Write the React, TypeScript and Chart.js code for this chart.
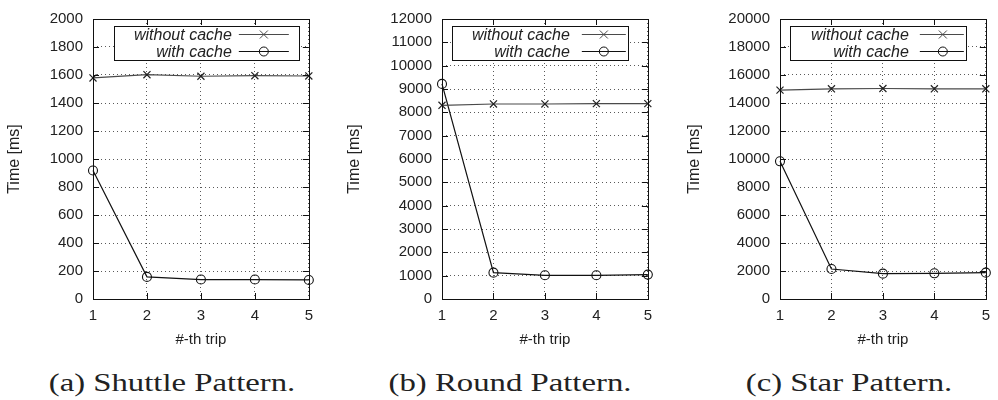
import React, { useEffect, useRef } from "react";
import { Chart, registerables } from "chart.js";
Chart.register(...registerables);

const trips = ["1", "2", "3", "4", "5"];
const seriesLabels = ["without cache", "with cache"];
const shuttleWithout = [1579, 1602, 1591, 1595, 1593];
const shuttleWith = [918, 158, 139, 139, 136];
const roundWithout = [8301, 8358, 8358, 8372, 8372];
const roundWith = [9219, 1129, 1016, 1016, 1045];
const starWithout = [14918, 15012, 15035, 15012, 15012];
const starWith = [9835, 2141, 1812, 1835, 1882];
const captions = ["(a) Shuttle Pattern.", "(b) Round Pattern.", "(c) Star Pattern."];
const yMaxes = [2000, 12000, 20000];
const ySteps = [200, 1000, 2000];
const xTitle = "#-th trip";
const yTitle = "Time [ms]";

const seriesWithout = [shuttleWithout, roundWithout, starWithout];
const seriesWith = [shuttleWith, roundWith, starWith];

// layout (pixels)
const panels = [
  { canvasLeft: 0, plotLeft: 93, plotRight: 312, captionX: 172, lg: { boxL: -195, boxR: -10, textR: -77, sL: -70, sR: -20, m: -45 } },
  { canvasLeft: 340, plotLeft: 442, plotRight: 651, captionX: 510, lg: { boxL: -196, boxR: -20, textR: -78, sL: -66, sR: -22, m: -44 } },
  { canvasLeft: 680, plotLeft: 780, plotRight: 989, captionX: 849, lg: { boxL: -196, boxR: -20, textR: -77, sL: -66, sR: -22, m: -43 } },
];
const CANVAS_H = 360;
const PLOT_TOP = 16;
const PLOT_BOTTOM = 299;
const RIGHT_PAD = 9;
const TXT = "#222";
const SANS = "'Liberation Sans', Arial, sans-serif";

function drawMarker(ctx: CanvasRenderingContext2D, kind: string, x: number, y: number) {
  ctx.beginPath();
  if (kind === "cross") {
    const r = 4;
    ctx.moveTo(x - r, y - r); ctx.lineTo(x + r, y + r);
    ctx.moveTo(x - r, y + r); ctx.lineTo(x + r, y - r);
  } else {
    ctx.arc(x, y, 4.5, 0, Math.PI * 2);
  }
  ctx.stroke();
}

function makeFramePlugin(lg: any) {
  return {
    id: "frameLegend",
    afterDraw(chart: any) {
      const { ctx, chartArea: a, scales } = chart;
      ctx.save();
      ctx.strokeStyle = "#111";
      ctx.lineWidth = 1;
      // inward ticks
      const tl = 6;
      ctx.beginPath();
      scales.y.ticks.forEach((t: any) => {
        const y = Math.round(scales.y.getPixelForValue(t.value)) + 0.5;
        ctx.moveTo(a.left, y); ctx.lineTo(a.left + tl, y);
        ctx.moveTo(a.right, y); ctx.lineTo(a.right - tl, y);
      });
      scales.x.ticks.forEach((t: any, i: number) => {
        const x = Math.round(scales.x.getPixelForTick(i)) + 0.5;
        ctx.moveTo(x, a.bottom); ctx.lineTo(x, a.bottom - tl);
        ctx.moveTo(x, a.top); ctx.lineTo(x, a.top + tl);
      });
      ctx.stroke();
      // frame
      ctx.strokeRect(Math.round(a.left) + 0.5, Math.round(a.top) + 0.5, Math.round(a.right - a.left), Math.round(a.bottom - a.top));
      // legend
      const R = a.right;
      const bx = Math.round(R + lg.boxL) + 0.5;
      const bw = Math.round(lg.boxR - lg.boxL);
      const by = a.top + 7.5;
      const bh = 34;
      ctx.fillStyle = "#fff";
      ctx.fillRect(bx, by, bw, bh);
      ctx.strokeRect(bx, by, bw, bh);
      ctx.font = "italic 16px " + SANS;
      ctx.textAlign = "right";
      ctx.textBaseline = "middle";
      const rows = [a.top + 15.5, a.top + 32.5];
      chart.data.datasets.forEach((ds: any, i: number) => {
        const y = rows[i];
        ctx.fillStyle = TXT;
        ctx.fillText(ds.label, R + lg.textR, y + 1);
        ctx.strokeStyle = ds.borderColor;
        ctx.lineWidth = 1.2;
        ctx.beginPath();
        ctx.moveTo(R + lg.sL, y); ctx.lineTo(R + lg.sR, y);
        ctx.stroke();
        ctx.lineWidth = 1;
        drawMarker(ctx, i === 0 ? "cross" : "circle", R + lg.m, y);
      });
      ctx.restore();
    },
  };
}

function Panel({ idx }: { idx: number }) {
  const ref = useRef<HTMLCanvasElement>(null);
  const p = panels[idx];
  const width = p.plotRight + RIGHT_PAD - p.canvasLeft;
  useEffect(() => {
    if (!ref.current) return;
    const chart = new Chart(ref.current, {
      type: "line",
      data: {
        labels: trips,
        datasets: [
          {
            label: seriesLabels[0],
            data: seriesWithout[idx],
            borderColor: "#4a4a4a",
            borderWidth: 1.2,
            pointStyle: "crossRot",
            pointRadius: 5,
            pointBorderWidth: 1.2,
            pointBorderColor: "#222",
            pointBackgroundColor: "rgba(0,0,0,0)",
            clip: false as any,
          },
          {
            label: seriesLabels[1],
            data: seriesWith[idx],
            borderColor: "#111",
            borderWidth: 1.2,
            pointStyle: "circle",
            pointRadius: 4.5,
            pointBorderWidth: 1.1,
            pointBorderColor: "#111",
            pointBackgroundColor: "rgba(0,0,0,0)",
            clip: false as any,
          },
        ],
      },
      options: {
        animation: false,
        responsive: false,
        devicePixelRatio: 1,
        layout: { padding: { left: 0, right: RIGHT_PAD, top: PLOT_TOP, bottom: 0 } },
        plugins: { legend: { display: false }, tooltip: { enabled: false }, title: { display: false } },
        elements: { line: { tension: 0 } },
        scales: {
          x: {
            type: "category",
            offset: false,
            afterFit: (s: any) => { s.height = CANVAS_H - PLOT_BOTTOM; },
            grid: { color: "#5a5a5a", drawTicks: false, lineWidth: 1 },
            border: { display: false, dash: [1, 3] },
            ticks: { color: TXT, font: { family: SANS, size: 15 }, padding: 8, maxRotation: 0 },
            title: { display: true, text: xTitle, color: TXT, font: { family: SANS, size: 15 }, padding: { top: 0, bottom: 11 } },
          },
          y: {
            type: "linear",
            min: 0,
            max: yMaxes[idx],
            afterFit: (s: any) => { s.width = p.plotLeft - p.canvasLeft; },
            grid: { color: "#5a5a5a", drawTicks: false, lineWidth: 1 },
            border: { display: false, dash: [1, 3] },
            ticks: { stepSize: ySteps[idx], color: TXT, font: { family: SANS, size: 15 }, padding: 10, callback: (v: any) => String(v) },
            title: { display: true, text: yTitle, color: TXT, font: { family: SANS, size: 16 }, padding: { top: 5, bottom: 0 } },
          },
        },
      },
      plugins: [makeFramePlugin(p.lg)],
    } as any);
    return () => chart.destroy();
  }, [idx]);
  return (
    <>
      <canvas
        ref={ref}
        width={width}
        height={CANVAS_H}
        style={{ position: "absolute", left: p.canvasLeft, top: 0, width, height: CANVAS_H }}
      />
      <div
        style={{
          position: "absolute",
          left: p.captionX,
          top: 368,
          transform: "translateX(-50%) scaleX(1.26)",
          fontFamily: "'Liberation Serif', 'DejaVu Serif', serif",
          fontSize: 26,
          lineHeight: "30px",
          whiteSpace: "nowrap",
          color: "#222",
        }}
      >
        {captions[idx]}
      </div>
    </>
  );
}

export default function App() {
  return (
    <div style={{ position: "absolute", left: 0, top: 0, width: 998, height: 400, background: "#fff", overflow: "hidden" }}>
      <Panel idx={0} />
      <Panel idx={1} />
      <Panel idx={2} />
    </div>
  );
}
